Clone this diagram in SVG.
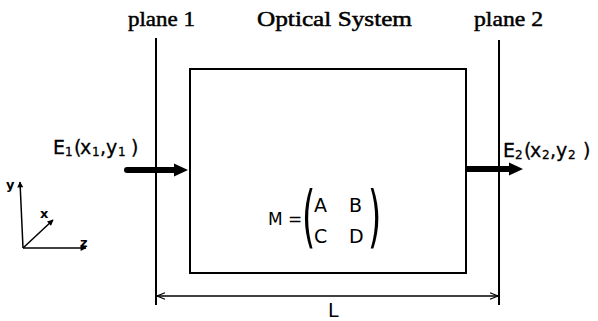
<svg xmlns="http://www.w3.org/2000/svg" width="598" height="321" viewBox="0 0 598 321">
<style>
.ln{stroke:#000;fill:none;stroke-width:2}
.thin{stroke:#000;fill:none;stroke-width:1.5}
.serif{font-family:"Liberation Serif","Times New Roman",serif;font-size:22px;fill:#000;stroke:#000;stroke-width:0.5}
.sans{font-family:"DejaVu Sans","Liberation Sans",Arial,sans-serif;fill:#000}
.big{font-size:19px;stroke:#000;stroke-width:0.3}
.sub{font-size:12px;stroke:#000;stroke-width:0.3}
</style>
<defs>
<marker id="open" viewBox="0 0 10 10" refX="10" refY="5" markerWidth="10" markerHeight="8" markerUnits="userSpaceOnUse" orient="auto-start-reverse">
<path d="M0,1 L10,5 L0,9" fill="none" stroke="#000" stroke-width="1.5"/>
</marker>
<marker id="small" viewBox="0 0 10 10" refX="9" refY="5" markerWidth="7" markerHeight="6" markerUnits="userSpaceOnUse" orient="auto">
<path d="M0,0 L10,5 L0,10 Z" fill="#000"/>
</marker>
</defs>

<g id="titles">
<text class="serif" x="128" y="26" textLength="67" lengthAdjust="spacingAndGlyphs">plane 1</text>
<text class="serif" x="257" y="26" textLength="155" lengthAdjust="spacingAndGlyphs">Optical System</text>
<text class="serif" x="474" y="26" textLength="69" lengthAdjust="spacingAndGlyphs">plane 2</text>
</g>

<g id="optical-system">
<rect x="190" y="69" width="276" height="204" class="ln"/>
<text class="sans" x="268" y="225" font-size="17">M</text>
<text class="sans" x="288" y="225" font-size="17">=</text>
<text class="sans" transform="translate(302,240) scale(0.5,1)" font-size="68">(</text>
<text class="sans" transform="translate(368,240) scale(0.5,1)" font-size="68">)</text>
<text class="sans" x="314" y="212" font-size="19">A</text>
<text class="sans" x="349" y="212" font-size="19">B</text>
<text class="sans" x="314" y="243" font-size="19">C</text>
<text class="sans" x="349" y="243" font-size="19">D</text>
</g>

<g id="plane1">
<line x1="156" y1="38" x2="156" y2="305" class="ln"/>
</g>
<g id="plane2">
<line x1="499" y1="40" x2="499" y2="305" class="ln"/>
</g>

<g id="E1">
<text class="sans big" x="53" y="154">E</text>
<text class="sans sub" x="65" y="156">1</text>
<text class="sans big" x="74" y="154">(</text>
<text class="sans big" x="80" y="154">x</text>
<text class="sans sub" x="92" y="156">1</text>
<text class="sans big" x="100" y="154">,</text>
<text class="sans big" x="106" y="154">y</text>
<text class="sans sub" x="118" y="156">1</text>
<text class="sans big" x="131" y="154">)</text>
</g>

<g id="E2">
<text class="sans big" x="503" y="157">E</text>
<text class="sans sub" x="515" y="159">2</text>
<text class="sans big" x="524" y="157">(</text>
<text class="sans big" x="530" y="157">x</text>
<text class="sans sub" x="542" y="159">2</text>
<text class="sans big" x="550" y="157">,</text>
<text class="sans big" x="556" y="157">y</text>
<text class="sans sub" x="568" y="159">2</text>
<text class="sans big" x="583" y="157">)</text>
</g>

<g id="axes">
<line x1="23" y1="248" x2="20" y2="182" class="thin" marker-end="url(#small)"/>
<line x1="23" y1="248" x2="86" y2="248" class="thin" marker-end="url(#small)"/>
<line x1="23" y1="248" x2="53" y2="220" class="thin" marker-end="url(#small)"/>
<text class="sans" x="6" y="189" font-size="13" font-weight="bold">y</text>
<text class="sans" x="40" y="218" font-size="13" font-weight="bold">x</text>
<text class="sans" x="80" y="247" font-size="13" font-weight="bold">z</text>
</g>

<g id="connectors">
<line x1="127" y1="170" x2="176" y2="170" stroke="#000" stroke-width="6" stroke-linecap="round"/>
<polygon points="174,163.5 188,170 174,176.5" fill="#000"/>
<line x1="466" y1="169" x2="511" y2="169" stroke="#000" stroke-width="6"/>
<polygon points="509,162.5 523,169 509,175.5" fill="#000"/>
<line x1="157" y1="296" x2="498" y2="296" class="thin" marker-start="url(#open)" marker-end="url(#open)"/>
<text class="sans" x="328" y="317" font-size="19">L</text>
</g>
</svg>
